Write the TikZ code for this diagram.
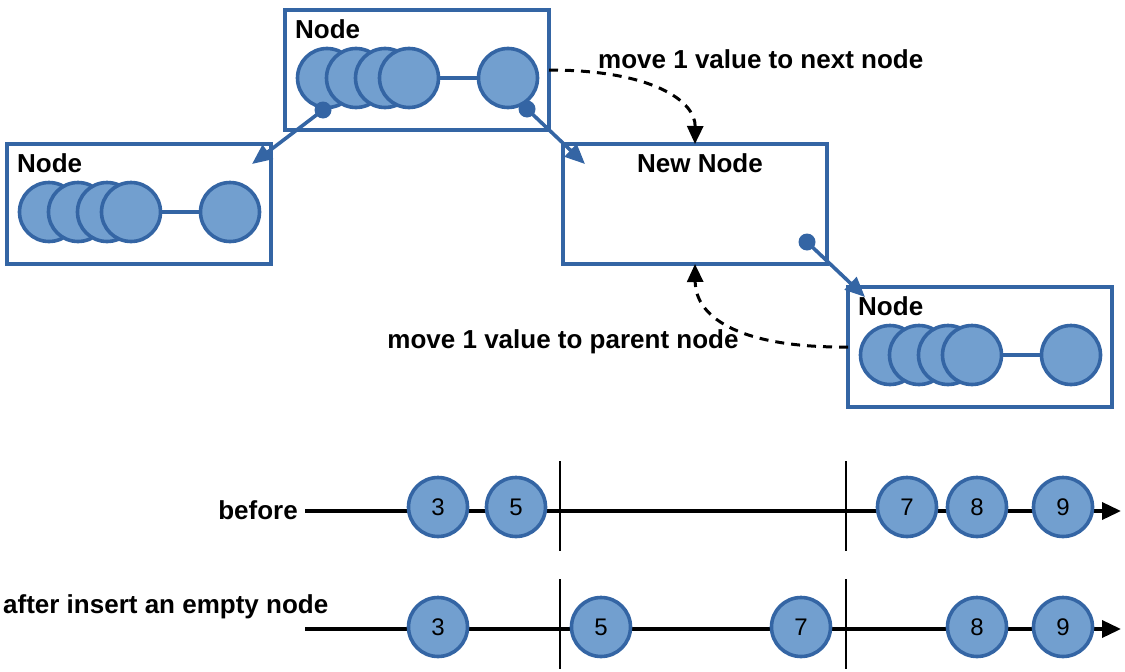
\documentclass[tikz,border=0pt]{standalone}
\usepackage{fontspec}
\setmainfont{Liberation Sans}
\usetikzlibrary{arrows.meta}
\definecolor{valblue}{RGB}{114,159,207}
\definecolor{linkblue}{RGB}{52,101,164}

\begin{document}
\begin{tikzpicture}[x=1pt,y=-1pt,
  box/.style={draw=linkblue, line width=3.6pt, minimum width=264pt,
    minimum height=120pt, inner sep=0pt, outer sep=0pt, anchor=north west},
  title/.style={font=\fontsize{26}{31}\selectfont\bfseries, inner sep=0pt},
  val/.style={circle, draw=linkblue, fill=valblue, line width=3.6pt,
    minimum size=59pt, inner sep=0pt, font=\fontsize{24}{28}\selectfont},
  dot/.style={circle, fill=linkblue, minimum size=17pt, inner sep=0pt},
  chain/.style={draw=linkblue, line width=3.6pt},
  link/.style={draw=linkblue, line width=3.6pt, -{Triangle[length=20pt,width=17pt]}},
  move/.style={line width=3pt, dash pattern=on 9pt off 7pt,
    -{Triangle[length=18pt,width=16pt]}},
  axis/.style={line width=3.6pt, -{Triangle[length=19pt,width=17pt]}},
  tick/.style={line width=2pt}]
  \useasboundingbox (0,0) rectangle (1125,672);
  % parent node
  \begin{scope}[shift={(285,10)}, name prefix=top-]
    \node[box] (box) at (0,0) {};
    \node[title, anchor=west] (name) at (10,19) {Node};
    \foreach \i/\x in {1/42,2/71,3/100,4/124} \node[val] (c\i) at (\x,68) {};
    \node[val] (c5) at (223,68) {};
    \draw[chain] (c4) -- (c5);
    \node[dot] (dl) at (38,100) {};
    \node[dot] (dr) at (242,99) {};
  \end{scope}
  % left child
  \begin{scope}[shift={(7,144)}, name prefix=left-]
    \node[box] (box) at (0,0) {};
    \node[title, anchor=west] (name) at (10,19) {Node};
    \foreach \i/\x in {1/42,2/71,3/100,4/124} \node[val] (c\i) at (\x,68) {};
    \node[val] (c5) at (223,68) {};
    \draw[chain] (c4) -- (c5);
    \coordinate (in) at (245,20);
  \end{scope}
  % new node
  \begin{scope}[shift={(563,144)}, name prefix=new-]
    \node[box] (box) at (0,0) {};
    \node[title] (name) at (137,19) {New Node};
    \node[dot] (dr) at (244,98) {};
    \coordinate (in) at (22,20);
  \end{scope}
  % right child
  \begin{scope}[shift={(848,287)}, name prefix=right-]
    \node[box] (box) at (0,0) {};
    \node[title, anchor=west] (name) at (10,19) {Node};
    \foreach \i/\x in {1/42,2/71,3/100,4/124} \node[val] (c\i) at (\x,68) {};
    \node[val] (c5) at (223,68) {};
    \draw[chain] (c4) -- (c5);
    \coordinate (in) at (17,10);
  \end{scope}
  % pointers
  \draw[link] (top-dl.center) -- (left-in);
  \draw[link] (top-dr.center) -- (new-in);
  \draw[link] (new-dr.center) -- (right-in);
  % moves
  \draw[move] (top-box.east) .. controls (650,70) and (695.5,100) .. (new-box.north);
  \node[title, anchor=west] (next) at (598,59) {move 1 value to next node};
  \draw[move] (right-box.west) .. controls (745,348) and (695.5,320) .. (new-box.south);
  \node[title] (parent) at (563,342) {move 1 value to parent node};
  % before
  \coordinate (b-start) at (305,511);
  \coordinate (b-end) at (1121,511);
  \draw[axis] (b-start) -- (b-end);
  \node[title, anchor=east] (before) at (298,510) {before};
  \foreach \k in {560,846} \draw[tick] (\k,461) -- (\k,551);
  \foreach \v/\x in {3/438,5/516,7/907,8/977,9/1063} \node[val] (b\v) at (\x,507) {\v};
  % after
  \coordinate (a-start) at (305,629);
  \coordinate (a-end) at (1121,629);
  \draw[axis] (a-start) -- (a-end);
  \node[title, anchor=west] (after) at (3,607) {after insert an empty node};
  \foreach \k in {560,846} \draw[tick] (\k,579) -- (\k,669);
  \foreach \v/\x in {3/438,5/601,7/801,8/977,9/1063} \node[val] (a\v) at (\x,627) {\v};
\end{tikzpicture}
\end{document}
